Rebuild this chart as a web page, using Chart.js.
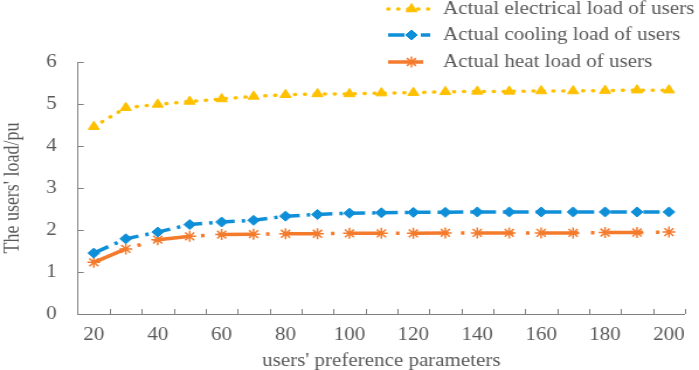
<!DOCTYPE html>
<html>
<head>
<meta charset="utf-8">
<script src="https://cdn.jsdelivr.net/npm/chart.js@4"></script>
<style>
  body { margin: 0; background: #fff; overflow: hidden; }
  /* the reference is a bit stretched sideways, so draw narrower and widen */
  #wrap { width: 598px; height: 370px; position: relative; transform: scaleX(1.1689); transform-origin: 0 0; }
</style>
</head>
<body>
<div id="wrap"><canvas id="chart"></canvas></div>
<script>
const categories = [20, 30, 40, 50, 60, 70, 80, 90, 100, 110, 120, 130, 140, 150, 160, 170, 180, 190, 200]
const electricalLoad = [4.46, 4.91, 4.99, 5.06, 5.12, 5.18, 5.22, 5.24, 5.24, 5.26, 5.27, 5.29, 5.30, 5.30, 5.31, 5.31, 5.32, 5.33, 5.33]
const coolingLoad = [1.45, 1.79, 1.95, 2.13, 2.19, 2.23, 2.33, 2.37, 2.40, 2.41, 2.42, 2.42, 2.43, 2.43, 2.43, 2.43, 2.43, 2.43, 2.43]
const heatLoad = [1.23, 1.55, 1.77, 1.85, 1.89, 1.90, 1.91, 1.91, 1.92, 1.92, 1.92, 1.93, 1.93, 1.93, 1.93, 1.93, 1.94, 1.94, 1.95]
const yTicks = [0, 1, 2, 3, 4, 5, 6]

const seriesNames = ['Actual electrical load of users', 'Actual cooling load of users', 'Actual heat load of users']
const colors = ['#FFC000', '#0F8FD8', '#F47A2C']
const textColor = '#595959'
const axisColor = '#808080'
const fontFamily = '"Liberation Serif", "Times New Roman", serif'

// inward tick marks + legend drawn on the canvas
const extras = {
    id: 'extras',
    afterDraw(chart) {
        const ctx = chart.ctx
        const x = chart.scales.x
        const y = chart.scales.y
        const area = chart.chartArea
        ctx.save()
        ctx.strokeStyle = axisColor
        ctx.lineWidth = 1
        ctx.beginPath()
        yTicks.forEach(v => {
            const py = Math.round(y.getPixelForValue(v)) + 0.5
            ctx.moveTo(area.left, py)
            ctx.lineTo(area.left + 5, py)
        })
        const step = x.getPixelForValue(1) - x.getPixelForValue(0)
        for (let i = 1; i <= categories.length; i++) {
            const px = Math.round(x.getPixelForValue(i) - step / 2) + 0.5
            ctx.moveTo(px, area.bottom)
            ctx.lineTo(px, area.bottom - 5)
        }
        ctx.stroke()

        // legend
        const lx = 332, mx = 352, tx = 379
        const rows = [9, 35, 62]
        ctx.font = '18px ' + fontFamily
        ctx.textBaseline = 'middle'
        chart.data.datasets.forEach((ds, i) => {
            const ry = rows[i]
            ctx.strokeStyle = ds.borderColor
            ctx.fillStyle = ds.backgroundColor
            ctx.lineWidth = ds.borderWidth
            ctx.lineCap = ds.borderCapStyle || 'butt'
            ctx.setLineDash(ds.borderDash || [])
            ctx.beginPath()
            ctx.moveTo(lx, ry)
            ctx.lineTo(lx + 36, ry)
            ctx.stroke()
            ctx.setLineDash([])
            ctx.lineCap = 'butt'
            ctx.lineWidth = ds.pointBorderWidth
            Chart.helpers.drawPoint(ctx, {
                pointStyle: ds.pointStyle,
                radius: ds.pointRadius,
                borderWidth: ds.pointBorderWidth,
                rotation: 0
            }, mx, ry)
            ctx.fillStyle = textColor
            ctx.fillText(seriesNames[i], tx, ry)
        })
        ctx.restore()
    }
}

new Chart(document.getElementById('chart').getContext('2d'), {
    type: 'line',
    data: {
        labels: categories,
        datasets: [
            {
                label: seriesNames[0],
                data: electricalLoad,
                borderColor: colors[0],
                backgroundColor: colors[0],
                borderWidth: 3.5,
                borderDash: [0.5, 8],
                borderCapStyle: 'round',
                pointStyle: 'triangle',
                pointRadius: 5.5,
                pointBorderWidth: 1,
                tension: 0
            },
            {
                label: seriesNames[1],
                data: coolingLoad,
                borderColor: colors[1],
                backgroundColor: colors[1],
                borderWidth: 3.5,
                borderDash: [14, 6, 3, 5],
                pointStyle: 'rectRot',
                pointRadius: 5,
                pointBorderWidth: 1,
                tension: 0
            },
            {
                label: seriesNames[2],
                data: heatLoad,
                borderColor: colors[2],
                backgroundColor: colors[2],
                borderWidth: 3.5,
                borderDash: [30, 11, 3, 11.6],
                pointStyle: 'star',
                pointRadius: 5.5,
                pointBorderWidth: 1.5,
                tension: 0
            }
        ]
    },
    options: {
        responsive: true,
        maintainAspectRatio: false,
        animation: false,
        layout: { padding: { top: 62, right: 8, left: 0, bottom: 0 } },
        plugins: {
            legend: { display: false },
            tooltip: { enabled: false }
        },
        scales: {
            x: {
                type: 'category',
                offset: true,
                grid: { display: false, drawTicks: false },
                border: { display: true, color: axisColor, width: 1 },
                ticks: {
                    autoSkip: false,
                    maxRotation: 0,
                    padding: 12,
                    color: textColor,
                    font: { family: fontFamily, size: 18, lineHeight: 1 },
                    callback: (v, i) => i % 2 === 0 ? categories[i] : ''
                },
                title: {
                    display: true,
                    text: "users' preference parameters",
                    color: textColor,
                    font: { family: fontFamily, size: 18, lineHeight: 1 },
                    padding: { top: -4, bottom: 0 }
                }
            },
            y: {
                min: 0,
                max: 6,
                grid: { display: false, drawTicks: false },
                border: { display: true, color: axisColor, width: 1 },
                ticks: {
                    stepSize: 1,
                    padding: 18,
                    color: textColor,
                    font: { family: fontFamily, size: 18 }
                },
                title: {
                    display: true,
                    text: "The users' load/pu",
                    color: textColor,
                    font: { family: fontFamily, size: 18 },
                    padding: { top: 0, bottom: 0 }
                }
            }
        }
    },
    plugins: [extras]
})
</script>
</body>
</html>
